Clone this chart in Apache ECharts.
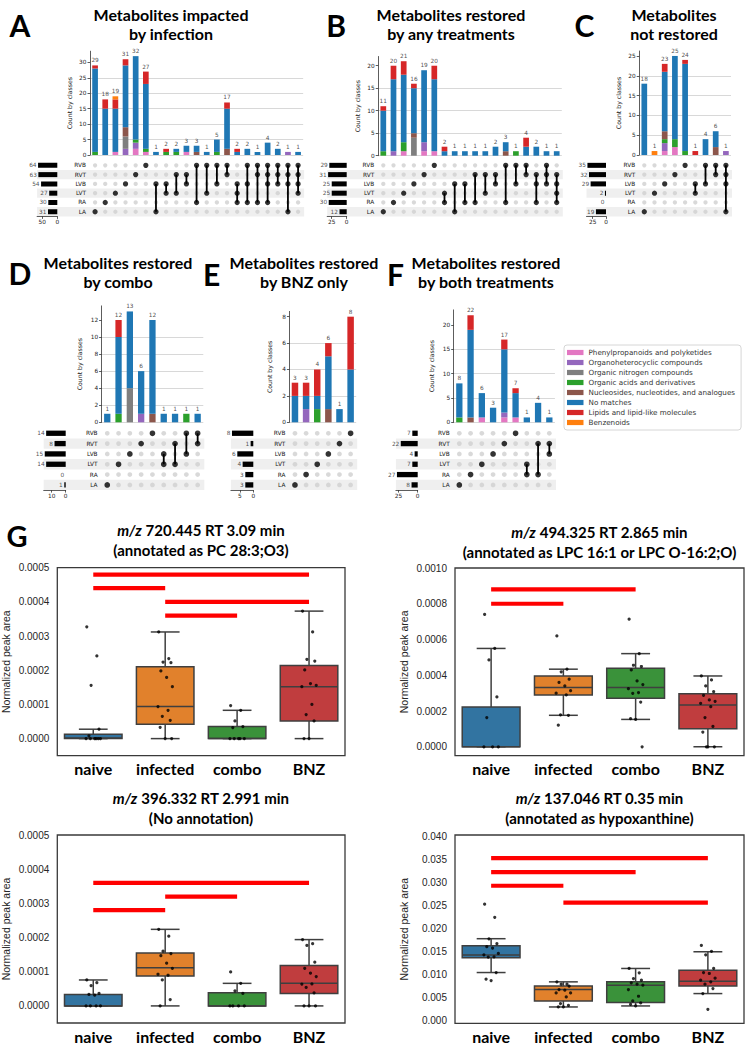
<!DOCTYPE html>
<html><head><meta charset="utf-8">
<script src="https://cdn.jsdelivr.net/npm/echarts@6/dist/echarts.min.js"></script>
<style>html,body{margin:0;padding:0;background:#fff}#c{width:752px;height:1050px}</style>
</head><body><div id="c"></div>
<script>
// ================= DATA =================
const ROWS = ['RVB', 'RVT', 'LVB', 'LVT', 'RA', 'LA'];
const CLASSES = ['Phenylpropanoids and polyketides', 'Organoheterocyclic compounds', 'Organic nitrogen compounds',
  'Organic acids and derivatives', 'Nucleosides, nucleotides, and analogues', 'No matches',
  'Lipids and lipid-like molecules', 'Benzenoids'];
const CLASS_COLORS = ['#e377c2', '#9467bd', '#7f7f7f', '#2ca02c', '#8c564b', '#1f77b4', '#d62728', '#ff7f0e'];

// Panel A – Metabolites impacted by infection
const A_totals = [29, 18, 19, 31, 32, 27, 1, 2, 2, 3, 3, 1, 5, 17, 2, 2, 1, 4, 2, 1, 1];
const A_members = [['LA'], ['RA'], ['LVT'], ['LVB'], ['RVT'], ['RVB'], ['LVB', 'LA'], ['LVB', 'LVT'], ['RVT', 'LVT'],
  ['RVT', 'LVB'], ['RVB', 'RA'], ['RVB', 'LVT'], ['RVB', 'LVB'], ['RVB', 'RVT'], ['LVB', 'LVT', 'RA'], ['RVB', 'LVB', 'RA'],
  ['RVB', 'RVT', 'RA'], ['RVB', 'RVT', 'LVB', 'RA'], ['RVB', 'RVT', 'LVB'], ['RVB', 'RVT', 'LVB', 'LA'], ['RVB', 'RVT', 'LVB', 'LVT']];
const A_classCounts = [
  [0, 0, 1, 0, 2, 1, 0, 0, 0, 1, 0, 0, 0, 0, 0, 0, 0, 0, 0, 0, 0],
  [0, 0, 0, 2, 2, 0, 0, 0, 0, 0, 0, 0, 0, 0, 0, 0, 0, 0, 0, 1, 0],
  [0, 0, 0, 4, 0, 0, 0, 0, 0, 0, 0, 0, 0, 0, 0, 0, 0, 0, 0, 0, 0],
  [1, 0, 0, 0, 1, 1, 0, 1, 1, 0, 0, 0, 1, 0, 0, 0, 0, 0, 0, 0, 0],
  [0, 0, 0, 3, 0, 0, 0, 0, 0, 0, 1, 0, 0, 2, 0, 0, 0, 0, 0, 0, 0],
  [27, 15, 14, 20, 27, 21, 1, 0, 1, 2, 2, 1, 4, 13, 1, 2, 1, 4, 2, 0, 1],
  [1, 3, 3, 2, 0, 4, 0, 1, 0, 0, 0, 0, 0, 2, 1, 0, 0, 0, 0, 0, 0],
  [0, 0, 1, 0, 0, 0, 0, 0, 0, 0, 0, 0, 0, 0, 0, 0, 0, 0, 0, 0, 0]];
const A_setSizes = [64, 63, 54, 27, 30, 31];

// Panel B – restored by any treatments
const B_totals = [11, 20, 21, 16, 19, 20, 2, 1, 1, 1, 1, 2, 3, 1, 4, 2, 1, 1];
const B_members = [['LA'], ['RA'], ['LVT'], ['LVB'], ['RVT'], ['RVB'], ['LVT', 'RA'], ['LVB', 'LA'], ['LVB', 'RA'],
  ['RVT', 'RA'], ['RVT', 'LVT'], ['RVT', 'LVB'], ['RVB', 'RA'], ['RVB', 'LVB'], ['RVB', 'RVT'], ['RVT', 'LVB', 'RA'],
  ['RVB', 'RVT', 'LVB'], ['RVT', 'LVB', 'LVT', 'RA']];
const B_classCounts = [
  [0, 0, 1, 0, 1, 1, 0, 0, 0, 0, 0, 0, 0, 0, 0, 0, 0, 0],
  [0, 1, 0, 0, 2, 0, 0, 0, 0, 0, 0, 0, 0, 0, 0, 0, 0, 0],
  [0, 0, 0, 4, 0, 0, 0, 0, 0, 0, 0, 0, 0, 0, 0, 0, 0, 0],
  [1, 0, 2, 0, 0, 0, 0, 0, 0, 0, 0, 0, 0, 1, 0, 0, 0, 0],
  [0, 0, 0, 1, 0, 0, 0, 0, 0, 0, 0, 0, 1, 0, 0, 0, 0, 0],
  [9, 16, 15, 10, 16, 16, 1, 1, 1, 1, 1, 2, 2, 0, 2, 2, 1, 1],
  [1, 3, 3, 1, 0, 3, 1, 0, 0, 0, 0, 0, 0, 0, 2, 0, 0, 0],
  [0, 0, 0, 0, 0, 0, 0, 0, 0, 0, 0, 0, 0, 0, 0, 0, 0, 0]];
const B_setSizes = [29, 31, 25, 25, 30, 12];

// Panel C – not restored
const C_totals = [18, 1, 23, 25, 24, 1, 4, 6, 1];
const C_members = [['LA'], ['LVT'], ['LVB'], ['RVT'], ['RVB'], ['LVB', 'LVT'], ['RVB', 'LVB'], ['RVB', 'RVT'], ['RVB', 'RVT', 'LVB', 'LA']];
const C_classCounts = [
  [0, 0, 1, 2, 0, 0, 0, 0, 0],
  [0, 0, 2, 0, 0, 0, 0, 0, 1],
  [0, 0, 0, 0, 0, 0, 0, 0, 0],
  [0, 0, 1, 2, 1, 0, 0, 0, 0],
  [0, 0, 2, 0, 0, 0, 0, 2, 0],
  [18, 0, 15, 21, 22, 0, 4, 4, 0],
  [0, 0, 2, 0, 1, 1, 0, 0, 0],
  [0, 1, 0, 0, 0, 0, 0, 0, 0]];
const C_setSizes = [35, 32, 29, 2, 0, 19];

// Panel D – restored by combo
const D_totals = [1, 12, 13, 6, 12, 1, 1, 1, 1];
const D_members = [['LA'], ['LVT'], ['LVB'], ['RVT'], ['RVB'], ['LVB', 'LVT'], ['RVT', 'LVT'], ['RVB', 'LVB'], ['RVB', 'RVT']];
const D_classCounts = [
  [0, 0, 0, 0, 0, 0, 0, 0, 0],
  [0, 0, 0, 1, 0, 0, 0, 0, 0],
  [0, 0, 4, 0, 0, 0, 0, 0, 0],
  [0, 1, 0, 0, 0, 0, 0, 1, 0],
  [0, 0, 0, 0, 1, 0, 0, 0, 0],
  [1, 9, 9, 5, 11, 1, 1, 0, 1],
  [0, 2, 0, 0, 0, 0, 0, 0, 0],
  [0, 0, 0, 0, 0, 0, 0, 0, 0]];
const D_setSizes = [14, 8, 15, 14, 0, 1];

// Panel E – restored by BNZ only
const E_totals = [3, 3, 4, 6, 1, 8];
const E_members = [['LA'], ['RA'], ['LVT'], ['LVB'], ['RVT'], ['RVB']];
const E_classCounts = [
  [0, 0, 0, 0, 0, 0],
  [0, 1, 0, 0, 0, 0],
  [0, 0, 0, 0, 0, 0],
  [0, 0, 1, 0, 0, 0],
  [0, 0, 0, 1, 0, 0],
  [2, 1, 1, 4, 1, 4],
  [1, 1, 2, 1, 0, 4],
  [0, 0, 0, 0, 0, 0]];
const E_setSizes = [8, 1, 6, 4, 3, 3];

// Panel F – restored by both treatments
const F_totals = [8, 22, 6, 3, 17, 7, 1, 4, 1];
const F_members = [['LA'], ['RA'], ['LVT'], ['LVB'], ['RVT'], ['RVB'], ['LVT', 'RA'], ['RVT', 'RA'], ['RVT', 'LVB']];
const F_classCounts = [
  [0, 0, 1, 0, 1, 1, 0, 0, 0],
  [0, 0, 0, 0, 1, 0, 0, 0, 0],
  [0, 0, 0, 0, 0, 0, 0, 0, 0],
  [1, 0, 0, 0, 0, 0, 0, 0, 0],
  [0, 1, 0, 0, 0, 0, 0, 0, 0],
  [7, 18, 5, 3, 13, 5, 1, 4, 1],
  [0, 3, 0, 0, 2, 1, 0, 0, 0],
  [0, 0, 0, 0, 0, 0, 0, 0, 0]];
const F_setSizes = [7, 22, 4, 7, 27, 8];

// Panel G – box plots  (stats = [min, Q1, median, Q3, max])
const GROUPS = ['naive', 'infected', 'combo', 'BNZ'];
const BOX_COLORS = ['#3274a1', '#e1812c', '#3a923a', '#c03d3e'];

const G1_stats = [[0, 0, 0.000002, 0.0000125, 0.0000275], [0, 0.0000419, 0.0000936, 0.0002105, 0.000312],
  [0, 0, 0, 0.0000351, 0.0000828], [0, 0.0000517, 0.000152, 0.000214, 0.000373]];
const G1_points = [
  [0.000327, 0.000242, 0.000156, 0.0000275, 0.000008, 0, 0, 0, 0, 0, 0],
  [0.000312, 0.000234, 0.000224, 0.000222, 0.000198, 0.000179, 0.000152, 0.0000936, 0.0000828, 0.0000653, 0.0000536, 0.000033, 0, 0],
  [0.0000965, 0.0000828, 0.0000517, 0.0000351, 0.0000322, 0, 0, 0, 0, 0],
  [0.000373, 0.000312, 0.000232, 0.000227, 0.000201, 0.000161, 0.000156, 0.000152, 0.0001, 0.0000702, 0.0000517, 0, 0]];
const G1_sig = [[0, 3, 0.00048], [0, 1, 0.00044], [1, 3, 0.0004], [1, 2, 0.00036]];

const G2_stats = [[0, 0, 0, 0.000222, 0.00055], [0.000176, 0.00029, 0.000331, 0.000396, 0.000434],
  [0.000153, 0.000271, 0.000331, 0.000439, 0.000521], [0, 0.000101, 0.000234, 0.000297, 0.000396]];
const G2_points = [
  [0.00074, 0.00055, 0.000486, 0.000279, 0.000163, 0, 0, 0],
  [0.00062, 0.000434, 0.000419, 0.000378, 0.00036, 0.00034, 0.000314, 0.0003, 0.00029, 0.000179, 0.000176, 0.000121],
  [0.000714, 0.000521, 0.000456, 0.000449, 0.00043, 0.000368, 0.000348, 0.000325, 0.000303, 0.000299, 0.00025, 0.000157, 0.000153, 0],
  [0.000396, 0.000374, 0.00034, 0.000308, 0.000288, 0.000262, 0.000254, 0.000243, 0.000224, 0.000163, 0.000114, 0.0000822, 0, 0, 0]];
const G2_sig = [[0, 2, 0.00088], [0, 1, 0.0008]];

const G3_stats = [[0, 0, 0, 0.0000335, 0.0000759], [0, 0.0000877, 0.000112, 0.000155, 0.000224],
  [0, 0, 0, 0.0000384, 0.000066], [0, 0.0000365, 0.000066, 0.000118, 0.000194]];
const G3_points = [
  [0.0000759, 0.000068, 0.0000591, 0.0000365, 0.0000335, 0.0000315, 0, 0, 0, 0],
  [0.000224, 0.000204, 0.00016, 0.000153, 0.000147, 0.000125, 0.00011, 0.0000926, 0.0000897, 0.0000759, 0.0000187, 0],
  [0.0000995, 0.000066, 0.0000443, 0.0000365, 0, 0, 0, 0],
  [0.000194, 0.000182, 0.000177, 0.000128, 0.00011, 0.0000956, 0.0000857, 0.000064, 0.0000642, 0.0000542, 0.0000384, 0, 0, 0]];
const G3_sig = [[0, 3, 0.00036], [1, 2, 0.00032], [0, 1, 0.00028]];

const G4_stats = [[0.0105, 0.0137, 0.01428, 0.0163, 0.01783], [0.00304, 0.00435, 0.00681, 0.0076, 0.00848],
  [0.00326, 0.00399, 0.00775, 0.00848, 0.01138], [0.00594, 0.0076, 0.00862, 0.01101, 0.015]];
const G4_points = [
  [0.0253, 0.02246, 0.0178, 0.01674, 0.01609, 0.0158, 0.01464, 0.01435, 0.01391, 0.01384, 0.0105, 0.00906, 0.00877],
  [0.00848, 0.00797, 0.00797, 0.00754, 0.00681, 0.00667, 0.00609, 0.00609, 0.00522, 0.00377, 0.0034, 0.00304, 0.00304],
  [0.01138, 0.01043, 0.0092, 0.00884, 0.00826, 0.00797, 0.00775, 0.00681, 0.00536, 0.00435, 0.00391, 0.00362, 0.00326],
  [0.01638, 0.0151, 0.01435, 0.01138, 0.0105, 0.01029, 0.00928, 0.00884, 0.00848, 0.00797, 0.00703, 0.00594, 0.00254]];
const G4_sig = [[0, 3, 0.0353], [0, 2, 0.03225], [0, 1, 0.0293], [1, 3, 0.02565]];

const G1_ticks = [0, 0.0001, 0.0002, 0.0003, 0.0004, 0.0005];
const G2_ticks = [0, 0.0002, 0.0004, 0.0006, 0.0008, 0.0010];
const G4_ticks = [0, 0.005, 0.01, 0.015, 0.02, 0.025, 0.03, 0.035, 0.04];

// ================= LAYOUT (positions / styles only) =================
const UPSET_LAYOUT = {
  A: {barLeft: 90, colW: 10.15, barW: 5.7, yMax: 33.6, yInt: 5, barTop: 51.2, bar0: 155, rowTop: 160.7, rowH: 9.28, dot: 4.3, setRight: 57.3, setW: 20.2, setInt: 50, setBarW: 5, nameGap: 18},
  B: {barLeft: 378.2, colW: 10.2, barW: 5.7, yMax: 22.05, yInt: 5, barTop: 56.5, bar0: 155.7, rowTop: 160.7, rowH: 9.28, dot: 4.3, setRight: 346.7, setW: 19.5, setInt: 25, setBarW: 5, nameGap: 18},
  C: {barLeft: 639.2, colW: 10.2, barW: 5.7, yMax: 26.25, yInt: 5, barTop: 51, bar0: 155, rowTop: 160.7, rowH: 9.28, dot: 4.3, setRight: 606, setW: 19.5, setInt: 25, setBarW: 5, nameGap: 18},
  D: {barLeft: 101.6, colW: 11.3, barW: 6.3, yMax: 13.65, yInt: 2, barTop: 305.9, bar0: 422.3, rowTop: 428.1, rowH: 10.33, dot: 4.7, setRight: 65.7, setW: 22, setInt: 10, setBarW: 5.3, nameGap: 19},
  E: {barLeft: 289.4, colW: 11.13, barW: 6.5, yMax: 8.4, yInt: 2, barTop: 311.4, bar0: 422.3, rowTop: 428.1, rowH: 10.33, dot: 4.7, setRight: 253.3, setW: 22.4, setInt: 5, setBarW: 5.3, nameGap: 17},
  F: {barLeft: 453.7, colW: 11.25, barW: 6.3, yMax: 23.1, yInt: 5, barTop: 309.9, bar0: 422.3, rowTop: 428.1, rowH: 10.33, dot: 4.7, setRight: 417.7, setW: 21.8, setInt: 25, setBarW: 5.3, nameGap: 19}
};
const BOX_LAYOUT = {
  G1: {left: 57.3, top: 567.7, width: 287.7, height: 188, min: -0.00005, max: 0.0005},
  G2: {left: 455, top: 568, width: 289, height: 187.7, min: -0.00005, max: 0.001},
  G3: {left: 57.3, top: 835, width: 287.7, height: 188, min: -0.00005, max: 0.0005},
  G4: {left: 455, top: 835, width: 289, height: 188.3, min: -0.0005, max: 0.0403}
};
const JITTER = [-0.09, 0.05, -0.03, 0.08, -0.06, 0.02, 0.1, -0.1, 0.04, -0.04, 0.07, -0.07, 0.0, 0.09, -0.02];

const SMALL = 5.8;
const INK = '#222';
const UFONT = 'DejaVu Sans';

// ================= BUILD =================
const grid = [], xAxis = [], yAxis = [], series = [], graphics = [];

function addGrid(g) { grid.push(Object.assign({containLabel: false, outerBoundsMode: 'none'}, g)); return grid.length - 1; }
function addX(a) { xAxis.push(a); return xAxis.length - 1; }
function addY(a) { yAxis.push(a); return yAxis.length - 1; }

function addUpset(key, totals, members, counts, setSizes) {
  const L = UPSET_LAYOUT[key];
  const n = totals.length;
  const cats = totals.map((_, i) => 'c' + i);
  const W = n * L.colW;
  const rowsH = ROWS.length * L.rowH;
  const setLeft = L.setRight - L.setW;

  // shaded rows
  [1, 3, 5].forEach(r => graphics.push({
    type: 'rect', silent: true, z: -10, zlevel: 0,
    shape: {x: setLeft, y: L.rowTop + r * L.rowH, width: L.barLeft + W - setLeft + 1, height: L.rowH},
    style: {fill: '#efefef'}
  }));

  // ---- stacked bar chart ----
  const gB = addGrid({left: L.barLeft, top: L.barTop, width: W, height: L.bar0 - L.barTop});
  const xB = addX({gridIndex: gB, type: 'category', data: cats, boundaryGap: true, show: false});
  const ticks = [];
  for (let v = 0; v <= L.yMax + 1e-9; v += L.yInt) ticks.push(v);
  const yB = addY({gridIndex: gB, type: 'value', min: 0, max: L.yMax, interval: L.yInt,
    name: 'Count by classes', nameLocation: 'middle', nameGap: L.nameGap,
    nameTextStyle: {fontSize: 6.2, color: INK, fontFamily: UFONT},
    axisLine: {show: true, lineStyle: {color: '#333', width: 0.8}},
    axisTick: {show: true, length: 2.5, customValues: ticks, lineStyle: {color: '#333', width: 0.8}},
    axisLabel: {fontSize: SMALL, color: INK, margin: 3.5, customValues: ticks, fontFamily: UFONT},
    splitLine: {show: true, showMaxLine: false, lineStyle: {color: '#d4d4d4', width: 0.9}}
  });
  counts.forEach((arr, c) => series.push({
    type: 'bar', name: CLASSES[c], xAxisIndex: xB, yAxisIndex: yB, stack: 'st' + key,
    data: arr, barWidth: L.barW, itemStyle: {color: CLASS_COLORS[c]}, silent: true, z: 2
  }));
  series.push({type: 'scatter', xAxisIndex: xB, yAxisIndex: yB, symbolSize: 1,
    itemStyle: {color: 'rgba(0,0,0,0)'}, data: totals.map((t, i) => [i, t]), silent: true, z: 3,
    label: {show: true, position: 'top', distance: 1.5, fontSize: SMALL, color: INK, fontFamily: UFONT,
      formatter: p => String(p.value[1])}});

  // ---- membership matrix ----
  const gM = addGrid({left: L.barLeft, top: L.rowTop, width: W, height: rowsH});
  const xM = addX({gridIndex: gM, type: 'category', data: cats, boundaryGap: true, show: false});
  const yM = addY({gridIndex: gM, type: 'category', data: ROWS, inverse: true, boundaryGap: true,
    axisLine: {show: false}, axisTick: {show: false}, splitLine: {show: false},
    axisLabel: {fontSize: SMALL, color: INK, margin: 4, fontFamily: UFONT, interval: 0}});
  const on = [], off = [], links = [];
  members.forEach((m, i) => {
    const idx = m.map(r => ROWS.indexOf(r));
    ROWS.forEach((r, j) => (idx.indexOf(j) >= 0 ? on : off).push([i, j]));
    if (idx.length > 1) links.push([i, Math.min.apply(null, idx), Math.max.apply(null, idx)]);
  });
  series.push({type: 'scatter', xAxisIndex: xM, yAxisIndex: yM, data: off, symbolSize: L.dot,
    itemStyle: {color: '#cfcfcf'}, silent: true, z: 2});
  series.push({type: 'custom', xAxisIndex: xM, yAxisIndex: yM, data: links, silent: true, z: 3,
    encode: {x: 0, y: 1},
    renderItem: (p, api) => {
      const a = api.coord([api.value(0), api.value(1)]);
      const b = api.coord([api.value(0), api.value(2)]);
      return {type: 'line', shape: {x1: a[0], y1: a[1], x2: b[0], y2: b[1]}, style: {stroke: '#000', lineWidth: 1.8}};
    }});
  series.push({type: 'scatter', xAxisIndex: xM, yAxisIndex: yM, data: on, symbolSize: L.dot + 1,
    itemStyle: {color: '#000'}, silent: true, z: 4});

  // ---- set size bars ----
  const gS = addGrid({left: setLeft, top: L.rowTop, width: L.setW, height: rowsH});
  const setMax = 1.05 * Math.max.apply(null, setSizes);
  const sTicks = [];
  for (let v = 0; v <= setMax + 1e-9; v += L.setInt) sTicks.push(v);
  const xS = addX({gridIndex: gS, type: 'value', inverse: true, min: 0, max: setMax, interval: L.setInt,
    axisLine: {show: true, lineStyle: {color: '#333', width: 0.8}},
    axisTick: {show: true, length: 2.5, customValues: sTicks, lineStyle: {color: '#333', width: 0.8}},
    axisLabel: {fontSize: SMALL, color: INK, margin: 3, customValues: sTicks, fontFamily: UFONT},
    splitLine: {show: true, showMaxLine: false, showMinLine: false, lineStyle: {color: '#d4d4d4', width: 0.9}}});
  const yS = addY({gridIndex: gS, type: 'category', data: ROWS, inverse: true, show: false});
  series.push({type: 'bar', xAxisIndex: xS, yAxisIndex: yS, data: setSizes, barWidth: L.setBarW,
    itemStyle: {color: '#000'}, silent: true, z: 3});
  series.push({type: 'scatter', xAxisIndex: xS, yAxisIndex: yS, symbolSize: 1, itemStyle: {color: 'rgba(0,0,0,0)'},
    data: setSizes.map((v, j) => [v, j]), silent: true, z: 4,
    label: {show: true, position: 'left', distance: 1, fontSize: SMALL, color: INK, fontFamily: UFONT,
      formatter: p => String(p.value[0])}});
}

function addBox(key, stats, points, sig, ticks, decimals) {
  const L = BOX_LAYOUT[key];
  const g = addGrid({left: L.left, top: L.top, width: L.width, height: L.height, show: true,
    borderColor: '#3a3a3a', borderWidth: 1.3, backgroundColor: 'rgba(0,0,0,0)'});
  addX({gridIndex: g, type: 'category', data: GROUPS, boundaryGap: true,
    axisLine: {show: false}, axisTick: {show: false}, splitLine: {show: false},
    axisLabel: {fontSize: 16, fontWeight: 'bold', color: '#000', fontFamily: 'Lato', margin: 5,
      interval: 0, hideOverlap: false}});
  const xv = addX({gridIndex: g, type: 'value', min: -0.5, max: 3.5, show: false});
  const yv = addY({gridIndex: g, type: 'value', min: L.min, max: L.max,
    name: 'Normalized peak area', nameLocation: 'middle', nameGap: 46,
    nameTextStyle: {fontSize: 10.5, color: '#262626', fontFamily: 'Liberation Sans'},
    axisLine: {show: false}, axisTick: {show: false}, splitLine: {show: false},
    axisLabel: {fontSize: 10, color: '#262626', fontFamily: 'Liberation Sans', margin: 8, customValues: ticks,
      formatter: v => Number(v).toFixed(decimals)}});
  series.push({type: 'custom', xAxisIndex: xv, yAxisIndex: yv, silent: true, z: 2,
    data: stats.map((s, i) => [i].concat(s)), encode: {x: 0, y: [1, 2, 3, 4, 5]},
    renderItem: (p, api) => {
      const i = api.value(0);
      const lo = api.coord([i, api.value(1)]), q1 = api.coord([i, api.value(2)]),
        md = api.coord([i, api.value(3)]), q3 = api.coord([i, api.value(4)]), hi = api.coord([i, api.value(5)]);
      const w = api.size([0.8, 0])[0];
      const cap = w / 4;
      const x = lo[0];
      const st = {stroke: '#3f3f3f', lineWidth: 1.5};
      return {type: 'group', children: [
        {type: 'line', shape: {x1: x, y1: hi[1], x2: x, y2: q3[1]}, style: st},
        {type: 'line', shape: {x1: x, y1: q1[1], x2: x, y2: lo[1]}, style: st},
        {type: 'line', shape: {x1: x - cap, y1: hi[1], x2: x + cap, y2: hi[1]}, style: st},
        {type: 'line', shape: {x1: x - cap, y1: lo[1], x2: x + cap, y2: lo[1]}, style: st},
        {type: 'rect', shape: {x: x - w / 2, y: q3[1], width: w, height: q1[1] - q3[1]},
          style: {fill: BOX_COLORS[i], stroke: '#3f3f3f', lineWidth: 1.5}},
        {type: 'line', shape: {x1: x - w / 2, y1: md[1], x2: x + w / 2, y2: md[1]}, style: st}
      ]};
    }});
  const pts = [];
  points.forEach((arr, i) => arr.forEach((v, k) => pts.push([i + JITTER[k % JITTER.length], v])));
  series.push({type: 'scatter', xAxisIndex: xv, yAxisIndex: yv, data: pts, symbolSize: 3.2,
    itemStyle: {color: '#000'}, silent: true, z: 4});
  series.push({type: 'custom', xAxisIndex: xv, yAxisIndex: yv, data: sig, silent: true, z: 5,
    encode: {x: [0, 1], y: 2},
    renderItem: (p, api) => {
      const a = api.coord([api.value(0), api.value(2)]);
      const b = api.coord([api.value(1), api.value(2)]);
      return {type: 'line', shape: {x1: a[0], y1: a[1], x2: b[0], y2: b[1]}, style: {stroke: '#ff0000', lineWidth: 4.2}};
    }});
}

addUpset('A', A_totals, A_members, A_classCounts, A_setSizes);
addUpset('B', B_totals, B_members, B_classCounts, B_setSizes);
addUpset('C', C_totals, C_members, C_classCounts, C_setSizes);
addUpset('D', D_totals, D_members, D_classCounts, D_setSizes);
addUpset('E', E_totals, E_members, E_classCounts, E_setSizes);
addUpset('F', F_totals, F_members, F_classCounts, F_setSizes);
addBox('G1', G1_stats, G1_points, G1_sig, G1_ticks, 4);
addBox('G2', G2_stats, G2_points, G2_sig, G2_ticks, 4);
addBox('G3', G3_stats, G3_points, G3_sig, G1_ticks, 4);
addBox('G4', G4_stats, G4_points, G4_sig, G4_ticks, 3);

// ---- texts ----
function txt(x, y, text, size, extra) {
  graphics.push({type: 'text', x: x, y: y, silent: true, z: 20,
    style: Object.assign({text: text, fontSize: size, fontWeight: 'bold', fontFamily: 'Lato', fill: '#000',
      align: 'center', verticalAlign: 'middle'}, extra || {})});
}
const TITLES = [
  ['A', 'Metabolites impacted', 'by infection'],
  ['B', 'Metabolites restored', 'by any treatments'],
  ['C', 'Metabolites', 'not restored'],
  ['D', 'Metabolites restored', 'by combo'],
  ['E', 'Metabolites restored', 'by BNZ only'],
  ['F', 'Metabolites restored', 'by both treatments']
];
const TITLE_POS = {A: [20, 25, 171, 14.5], B: [336, 25, 451, 14.5], C: [584.5, 25, 674, 14.5],
  D: [20, 273, 118, 262], E: [211.5, 274, 304, 262], F: [395.5, 274, 486, 262]};
TITLES.forEach(t => {
  const p = TITLE_POS[t[0]];
  txt(p[0], p[1], t[0], 30);
  txt(p[2], p[3], t[1], 16);
  txt(p[2], p[3] + 19, t[2], 16);
});
txt(17, 535, 'G', 29);

const BOX_TITLES = [
  ['720.445 RT 3.09 min', '(annotated as PC 28:3;O3)', 201, 530],
  ['494.325 RT 2.865 min', '(annotated as LPC 16:1 or LPC O-16:2;O)', 599.5, 531.5],
  ['396.332 RT 2.991 min', '(No annotation)', 201, 798],
  ['137.046 RT 0.35 min', '(annotated as hypoxanthine)', 599.5, 798]
];
BOX_TITLES.forEach(b => {
  txt(b[2], b[3], '{i|m/z} ' + b[0], 15, {rich: {i: {fontStyle: 'italic', fontWeight: 'bold', fontFamily: 'Lato', fontSize: 15, fill: '#000'}}});
  txt(b[2], b[3] + 20, b[1], 15);
});

const option = {
  animation: false,
  backgroundColor: '#fff',
  textStyle: {fontFamily: UFONT},
  legend: {
    show: true, orient: 'vertical', left: 564, top: 345, data: CLASSES, icon: 'rect',
    itemWidth: 16.5, itemHeight: 5.2, itemGap: 3, itemStyle: {borderWidth: 0},
    textStyle: {fontSize: 7.2, color: '#333', fontFamily: UFONT},
    padding: [4, 6, 4, 3], borderColor: '#cccccc', borderWidth: 0.8, borderRadius: 3,
    backgroundColor: '#fff', selectedMode: false, inactiveColor: '#ccc'
  },
  grid: grid, xAxis: xAxis, yAxis: yAxis, series: series,
  graphic: {elements: graphics}
};

const chart = echarts.init(document.getElementById('c'), null, {renderer: 'svg', width: 752, height: 1050});
chart.setOption(option);
</script>
</body></html>
